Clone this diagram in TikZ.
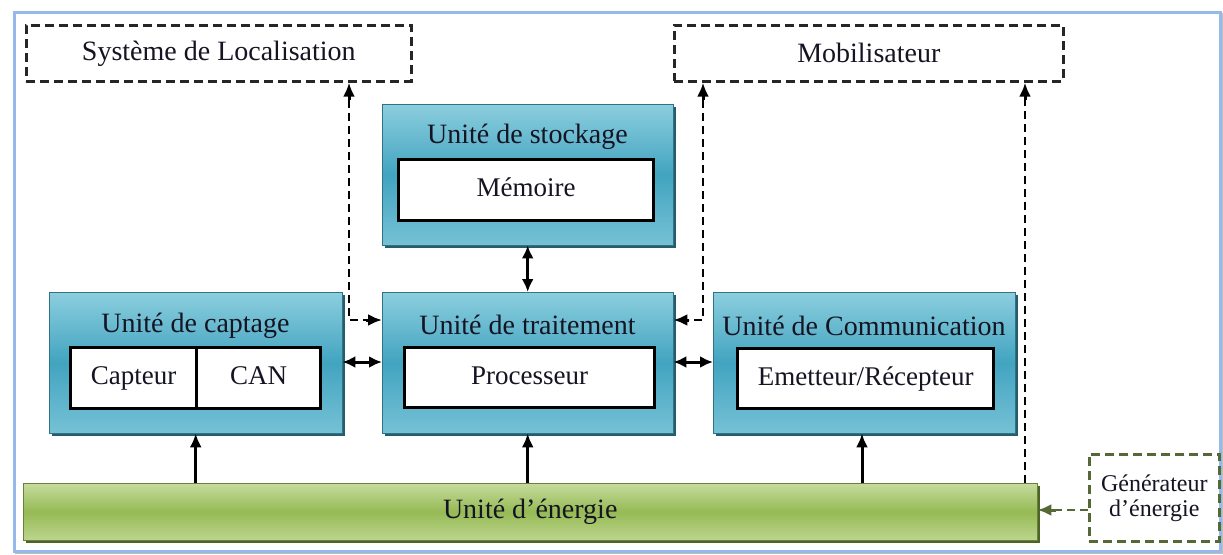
\documentclass[tikz,border=0pt]{standalone}
\usepackage{fontspec}
\setmainfont{Liberation Serif}
\usetikzlibrary{arrows.meta,shadows}
\definecolor{tealA}{RGB}{140,206,222}
\definecolor{tealB}{RGB}{66,164,192}
\definecolor{tealS}{RGB}{38,92,108}
\definecolor{greenA}{RGB}{198,220,158}
\definecolor{greenB}{RGB}{150,186,84}
\definecolor{greenS}{RGB}{78,100,38}
\definecolor{frameC}{RGB}{150,185,235}
\definecolor{genC}{RGB}{85,105,55}
\definecolor{txtC}{RGB}{20,20,35}
\begin{document}
\begin{tikzpicture}[x=1pt,y=-1pt,
  unit/.style={draw=tealB!70!black, line width=0.4pt, top color=tealA, bottom color=tealA!70!tealB, middle color=tealB,
    drop shadow={shadow xshift=3pt,shadow yshift=-3pt,fill=tealS,opacity=1}, inner sep=0pt, anchor=north west},
  energybox/.style={draw=greenB!70!black, line width=0.4pt, top color=greenA, bottom color=greenA!80!greenB, middle color=greenB,
    drop shadow={shadow xshift=3pt,shadow yshift=-3pt,fill=greenS,opacity=1}, inner sep=0pt, anchor=north west,
    font=\fontsize{28}{30}\selectfont, text=txtC},
  inner/.style={draw=black, line width=3.4pt, fill=white, inner sep=0pt, anchor=north west,
    font=\fontsize{27}{30}\selectfont, text=txtC, text height=19pt, text depth=6pt},
  title/.style={font=\fontsize{28}{30}\selectfont, text=txtC, inner sep=0pt},
  ext/.style={draw=black!85, line width=2.6pt, dash pattern=on 9pt off 5pt, inner sep=0pt, anchor=north west,
    font=\fontsize{28}{30}\selectfont, text=txtC},
  gen/.style={draw=genC, line width=2.6pt, dash pattern=on 9pt off 5pt, inner sep=0pt, anchor=north west,
    font=\fontsize{24}{27}\selectfont, text=txtC, align=center},
  dbl/.style={line width=3pt, {Latex[length=13pt,width=12pt]}-{Latex[length=13pt,width=12pt]}},
  uparr/.style={line width=3pt, -{Latex[length=14pt,width=12pt]}},
  dasharr/.style={line width=2.8pt, dash pattern=on 8pt off 5pt},
]
\useasboundingbox (0,0) rectangle (1223,554);
\fill[white] (0,0) rectangle (1223,554);
\draw[black!25, line width=2pt] (16,14) rectangle (1222,553);
\draw[frameC, line width=3pt, fill=white] (14,12) rectangle (1220,551);

% external boxes
\node[ext, minimum width=385pt, minimum height=56pt] (loc) at (25,24) {Système de Localisation};
\node[ext, minimum width=389pt, minimum height=56pt] (mob) at (673,24) {Mobilisateur};

% storage
\node[unit, minimum width=291pt, minimum height=141pt] (stock) at (382,104) {};
\node[title] (stockT) at (527.5,137) {Unité de stockage};
\node[inner, minimum width=255pt, minimum height=61pt] (mem) at (397,158) {Mémoire};

% captage
\node[unit, minimum width=293pt, minimum height=141pt] (capt) at (49,292) {};
\node[title] (captT) at (195.5,326) {Unité de captage};
\node[inner, minimum width=126pt, minimum height=61pt] (capteur) at (69,346) {Capteur};
\node[inner, minimum width=124pt, minimum height=61pt] (can) at (195,346) {CAN};

% traitement
\node[unit, minimum width=291pt, minimum height=141pt] (trait) at (382,292) {};
\node[title] (traitT) at (527.5,325) {Unité de traitement};
\node[inner, minimum width=250pt, minimum height=60pt] (proc) at (403,346) {Processeur};

% communication
\node[unit, minimum width=302pt, minimum height=141pt] (comm) at (713,292) {};
\node[title] (commT) at (864,326) {Unité de Communication};
\node[inner, minimum width=256pt, minimum height=60pt] (er) at (736,347) {Emetteur/Récepteur};

% energy
\node[energybox, minimum width=1014pt, minimum height=57pt] (energy) at (23,483) {Unité d’énergie};
\node[gen, minimum width=130pt, minimum height=87pt] (genr) at (1088,453) {Générateur\\[-2pt]d’énergie};

% connectors
\draw[dbl] (stock.south) -- (trait.north);
\draw[dbl] (capt.east |- 0,362) -- (trait.west |- 0,362);
\draw[dbl] (trait.east |- 0,362) -- (comm.west |- 0,362);
\draw[uparr] (energy.north -| capt.south) -- (capt.south);
\draw[uparr] (energy.north -| trait.south) -- (trait.south);
\draw[uparr] (energy.north -| 862,0) -- (comm.south -| 862,0);

\coordinate (locB) at (349,100);
\coordinate (locL) at (366,320);
\draw[dasharr] (locB) -- (349,320) -- (locL);
\draw[uparr] (locB) -- (loc.south -| locB);
\draw[uparr] (locL) -- (trait.west |- locL);

\coordinate (mobB) at (703,100);
\coordinate (mobR) at (689,320);
\draw[dasharr] (mobB) -- (703,320) -- (mobR);
\draw[uparr] (mobB) -- (mob.south -| mobB);
\draw[uparr] (mobR) -- (trait.east |- mobR);

\coordinate (enB) at (1025,100);
\draw[dasharr] (energy.north -| enB) -- (enB);
\draw[uparr] (enB) -- (mob.south -| enB);

\coordinate (genL) at (1056,510);
\draw[dasharr, genC] (genr.west |- genL) -- (genL);
\draw[uparr, genC] (genL) -- (energy.east |- genL);
\end{tikzpicture}
\end{document}
